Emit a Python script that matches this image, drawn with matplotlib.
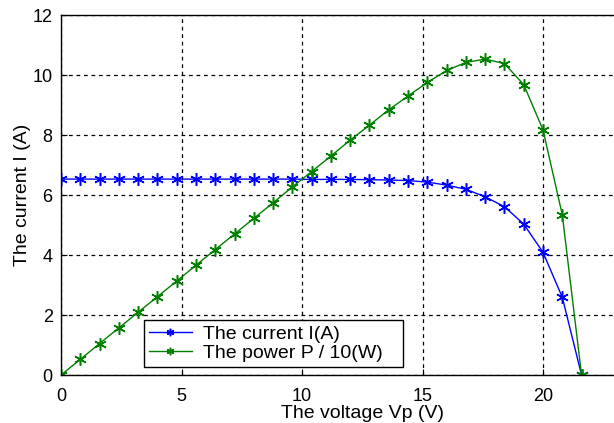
import matplotlib
matplotlib.use("Agg")
import matplotlib.pyplot as plt

plt.rcParams["font.family"] = ["Liberation Sans", "DejaVu Sans"]

# voltage samples (V)
voltage = [0.0, 0.8, 1.6, 2.4, 3.2, 4.0, 4.8, 5.6, 6.4, 7.2, 8.0, 8.8, 9.6, 10.4,
           11.2, 12.0, 12.8, 13.6, 14.4, 15.2, 16.0, 16.8, 17.6, 18.4, 19.2, 20.0,
           20.8, 21.6]
# current I (A)
current = [6.53, 6.53, 6.53, 6.53, 6.53, 6.53, 6.53, 6.53, 6.53, 6.53, 6.53, 6.53,
           6.53, 6.52, 6.52, 6.52, 6.51, 6.50, 6.48, 6.43, 6.33, 6.19, 5.94, 5.61,
           5.03, 4.09, 2.59, 0.0]
# power P / 10 (W)
power = [0.0, 0.52, 1.05, 1.57, 2.09, 2.61, 3.13, 3.66, 4.18, 4.70, 5.22, 5.74,
         6.27, 6.78, 7.30, 7.83, 8.33, 8.84, 9.30, 9.75, 10.15, 10.42, 10.53,
         10.38, 9.68, 8.17, 5.34, 0.0]

xticks = [0, 5, 10, 15, 20]
yticks = [0, 2, 4, 6, 8, 10, 12]

fig = plt.figure(figsize=(6.14, 4.23), dpi=100)
ax = fig.add_axes([61 / 614, 48 / 423, 25 * 24.1 / 614, 360 / 423])

star = (6, 2, 0)
ax.plot(voltage, current, color="#0000ff", lw=1, marker=star, ms=9, mew=1.1,
        label="The current I(A)")
ax.plot(voltage, power, color="#008000", lw=1, marker=star, ms=9, mew=1.1,
        label="The power P / 10(W)")

ax.set_xlim(0, 25)
ax.set_ylim(0, 12)
ax.set_xticks(xticks)
ax.set_yticks(yticks)
ax.tick_params(direction="in", labelsize=13, length=4)
ax.tick_params(axis="x", pad=9)
ax.tick_params(axis="y", pad=6)
ax.grid(True, color="black", linestyle=(0, (3, 3)), linewidth=0.9)
for s in ax.spines.values():
    s.set_linewidth(1)

ax.set_xlabel("The voltage Vp (V)", fontsize=14, labelpad=0)
ax.set_ylabel("The current I (A)", fontsize=14, labelpad=1)

# legend box spans x 144..403 px, bottom 8 px above the axis
leg = ax.legend(loc="lower left", bbox_to_anchor=(83 / 603, 8 / 360, 259 / 603, 46 / 360),
                mode="expand", fontsize=14, fancybox=False, framealpha=1,
                edgecolor="black", markerscale=0.6, handlelength=2.2,
                handletextpad=0.6, borderpad=0.25, labelspacing=0.1, borderaxespad=0)
leg.get_frame().set_linewidth(1)

fig.savefig("out.png", dpi=100)
